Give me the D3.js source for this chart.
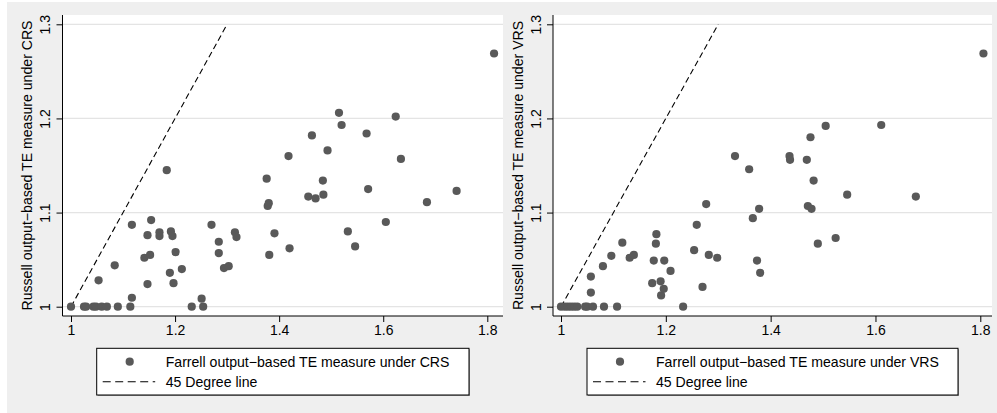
<!DOCTYPE html>
<html>
<head>
<meta charset="utf-8">
<script src="https://cdn.jsdelivr.net/npm/d3@7"></script>
<style>
  html, body { margin: 0; padding: 0; background: #ffffff; }
  svg { display: block; }
  text { font-family: "Liberation Sans", Arial, Helvetica, sans-serif; }
</style>
</head>
<body>
<svg id="chart" width="997" height="413"></svg>
<script>
// ---- Data ----
const xTicks = [1, 1.2, 1.4, 1.6, 1.8];
const yTicks = [1, 1.1, 1.2, 1.3];
const lineX = [1, 1.3];
const lineY = [1, 1.3];

// Left panel: Farrell (CRS) vs Russell (CRS)
const crsX = [1.000, 1.025, 1.029, 1.043, 1.048, 1.059, 1.069, 1.090, 1.114, 1.117,
  1.053, 1.084, 1.117, 1.141, 1.152, 1.147, 1.147, 1.154, 1.170, 1.170,
  1.184, 1.192, 1.195, 1.190, 1.197, 1.201, 1.213, 1.232, 1.254, 1.251,
  1.270, 1.284, 1.284, 1.294, 1.303, 1.315, 1.318, 1.376, 1.378, 1.380,
  1.381, 1.391, 1.418, 1.420, 1.456, 1.470, 1.463, 1.484, 1.485, 1.493,
  1.515, 1.520, 1.532, 1.546, 1.568, 1.571, 1.605, 1.624, 1.634, 1.684,
  1.741, 1.813];
const crsY = [1.000, 1.000, 1.000, 1.000, 1.000, 1.000, 1.000, 1.000, 1.000, 1.0095,
  1.028, 1.044, 1.087, 1.052, 1.055, 1.024, 1.076, 1.092, 1.079, 1.075,
  1.145, 1.080, 1.075, 1.036, 1.025, 1.058, 1.040, 1.000, 1.000, 1.0085,
  1.087, 1.069, 1.057, 1.041, 1.043, 1.079, 1.074, 1.136, 1.107, 1.110,
  1.055, 1.078, 1.160, 1.062, 1.117, 1.115, 1.182, 1.134, 1.119, 1.166,
  1.206, 1.193, 1.080, 1.064, 1.184, 1.125, 1.090, 1.202, 1.157, 1.111,
  1.123, 1.269];

// Right panel: Farrell (VRS) vs Russell (VRS)
const vrsX = [1.000, 1.007, 1.013, 1.019, 1.025, 1.031, 1.046, 1.050, 1.061, 1.082,
  1.107, 1.233, 1.057, 1.057, 1.080, 1.096, 1.117, 1.131, 1.139, 1.174,
  1.177, 1.181, 1.182, 1.190, 1.191, 1.196, 1.197, 1.209, 1.254, 1.259,
  1.270, 1.277, 1.282, 1.298, 1.332, 1.359, 1.366, 1.374, 1.378, 1.380,
  1.436, 1.437, 1.469, 1.476, 1.471, 1.478, 1.482, 1.490, 1.505, 1.524,
  1.546, 1.611, 1.677, 1.806];
const vrsY = [1.000, 1.000, 1.000, 1.000, 1.000, 1.000, 1.000, 1.000, 1.000, 1.000,
  1.000, 1.000, 1.015, 1.032, 1.043, 1.054, 1.068, 1.052, 1.055, 1.025,
  1.049, 1.067, 1.077, 1.027, 1.012, 1.019, 1.049, 1.038, 1.060, 1.087,
  1.021, 1.109, 1.055, 1.052, 1.160, 1.146, 1.094, 1.049, 1.104, 1.036,
  1.160, 1.156, 1.156, 1.180, 1.107, 1.104, 1.134, 1.067, 1.192, 1.073,
  1.119, 1.193, 1.117, 1.269];

const yTitles = ["Russell output\u2212based TE measure under CRS",
                 "Russell output\u2212based TE measure under VRS"];
const legendLabels = ["Farrell output\u2212based TE measure under CRS",
                      "Farrell output\u2212based TE measure under VRS"];
const lineLabel = "45 Degree line";

// ---- Layout ----
const svg = d3.select("#chart");
const bg = "#efefef";
const markerColor = "#595959";
const gridColor = "#e4e4e4";

svg.append("rect").attr("x", 7).attr("y", 2).attr("width", 990).attr("height", 411).attr("fill", bg);

const panels = [
  { xs: crsX, ys: crsY, left: 62.5, right: 503, x0: 71, x1: 487.3, title: yTitles[0], legend: legendLabels[0], legX: 96.7, legW: 372.3 },
  { xs: vrsX, ys: vrsY, left: 553, right: 992, x0: 561, x1: 980.3, title: yTitles[1], legend: legendLabels[1], legX: 587, legW: 371 }
];
const plotTop = 15, plotBottom = 316;

panels.forEach(p => {
  const g = svg.append("g");
  const x = d3.scaleLinear().domain([1, 1.8]).range([p.x0, p.x1]);
  const y = d3.scaleLinear().domain([1, 1.3]).range([306.7, 24.3]);

  // plot region
  g.append("rect").attr("x", p.left).attr("y", plotTop)
    .attr("width", p.right - p.left).attr("height", plotBottom - plotTop).attr("fill", "#ffffff");

  // grid lines
  g.selectAll(".grid").data(yTicks).enter().append("line")
    .attr("x1", p.left).attr("x2", p.right)
    .attr("y1", d => y(d)).attr("y2", d => y(d))
    .attr("stroke", gridColor).attr("stroke-width", 1.3);

  // axes
  const xAxis = d3.axisBottom(x).tickValues(xTicks).tickFormat(d3.format("")).tickSize(6).tickSizeOuter(0);
  const xa = g.append("g").attr("transform", `translate(0,${plotBottom})`).call(xAxis);
  xa.select(".domain").remove();
  xa.append("line").attr("x1", p.left).attr("x2", p.right).attr("stroke", "#000").attr("stroke-width", 1);
  xa.selectAll(".tick line").attr("stroke", "#000");
  xa.selectAll(".tick text").attr("font-size", 14).attr("fill", "#000")
    .attr("font-family", "Liberation Sans, Arial, sans-serif").attr("dy", null).attr("y", 19);

  const yAxis = d3.axisLeft(y).tickValues(yTicks).tickFormat(d3.format("")).tickSize(6).tickSizeOuter(0);
  const ya = g.append("g").attr("transform", `translate(${p.left},0)`).call(yAxis);
  ya.select(".domain").remove();
  ya.append("line").attr("y1", plotTop).attr("y2", plotBottom).attr("stroke", "#000").attr("stroke-width", 1);
  ya.selectAll(".tick line").attr("stroke", "#000");
  ya.selectAll(".tick text").attr("font-size", 14).attr("fill", "#000")
    .attr("font-family", "Liberation Sans, Arial, sans-serif")
    .attr("x", null).attr("dy", null)
    .attr("text-anchor", "middle")
    .attr("transform", "translate(-12.5,0) rotate(-90)");

  // y title
  g.append("text")
    .attr("transform", `translate(${p.left - 30.5},${(plotTop + plotBottom) / 2}) rotate(-90)`)
    .attr("text-anchor", "middle").attr("font-size", 14.1).attr("fill", "#000")
    .text(p.title);

  // 45 degree line
  const line = d3.line().x(d => x(d[0])).y(d => y(d[1]));
  g.append("path").datum(d3.zip(lineX, lineY)).attr("d", line)
    .attr("fill", "none").attr("stroke", "#000").attr("stroke-width", 1.1)
    .attr("stroke-dasharray", "6,3.5");

  // points
  g.selectAll(".pt").data(d3.zip(p.xs, p.ys)).enter().append("circle")
    .attr("cx", d => x(d[0])).attr("cy", d => y(d[1])).attr("r", 4.1)
    .attr("fill", markerColor);

  // legend
  const lg = g.append("g").attr("transform", `translate(${p.legX},348.3)`);
  lg.append("rect").attr("x", 1).attr("y", 1).attr("width", p.legW).attr("height", 46.7).attr("fill", "#9a9a9a");
  lg.append("rect").attr("x", 0).attr("y", 0).attr("width", p.legW).attr("height", 46.7)
    .attr("fill", "#ffffff").attr("stroke", "#000").attr("stroke-width", 1);
  lg.append("circle").attr("cx", 33).attr("cy", 13.4).attr("r", 4.1).attr("fill", markerColor);
  lg.append("text").attr("x", 69).attr("y", 18.3).attr("font-size", 14.1).attr("fill", "#000").text(p.legend);
  lg.append("line").attr("x1", 6).attr("x2", 58.5).attr("y1", 33.4).attr("y2", 33.4)
    .attr("stroke", "#000").attr("stroke-width", 1.1).attr("stroke-dasharray", "8,4.5");
  lg.append("text").attr("x", 69).attr("y", 38.3).attr("font-size", 14.1).attr("fill", "#000").text(lineLabel);
});
</script>
</body>
</html>
